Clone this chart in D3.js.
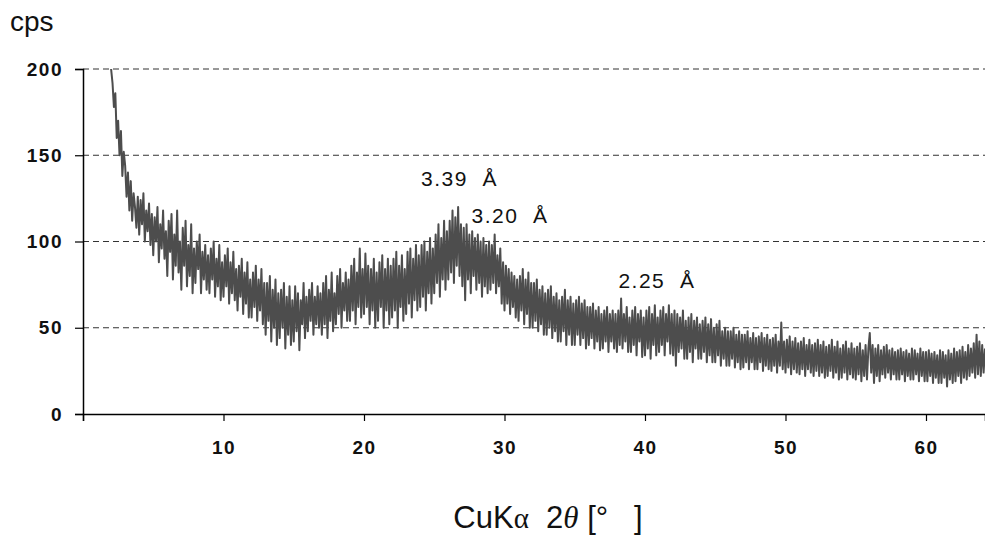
<!DOCTYPE html>
<html>
<head>
<meta charset="utf-8">
<script src="https://cdn.jsdelivr.net/npm/d3@7/dist/d3.min.js"></script>
<style>
  html, body { margin: 0; padding: 0; background: #fff; }
  svg { display: block; }
</style>
</head>
<body>
<svg id="chart" width="985" height="535"></svg>
<script>
// ---- data ----
const twoThetaStart = 2.0;   // first scan angle [deg]
const twoThetaStep = 0.1;    // scan step [deg]
const cps = [
  200, 192, 178, 186, 160, 170, 150, 164, 138, 152,
  144, 126, 140, 118, 135, 112, 128, 120, 108, 126,
  104, 124, 110, 128, 100, 118, 106, 122, 98, 116,
  92, 114, 100, 120, 88, 110, 96, 118, 90, 106,
  80, 112, 94, 116, 78, 104, 86, 118, 82, 100,
  72, 108, 86, 112, 74, 98, 80, 110, 70, 96,
  76, 100, 84, 104, 70, 94, 78, 98, 72, 92,
  70, 96, 78, 100, 68, 90, 74, 98, 66, 88,
  68, 92, 74, 96, 64, 88, 70, 94, 66, 84,
  60, 86, 68, 90, 58, 82, 64, 88, 56, 78,
  56, 82, 62, 86, 54, 78, 60, 84, 52, 76,
  46, 76, 54, 80, 42, 72, 50, 78, 40, 70,
  44, 72, 50, 76, 38, 68, 46, 74, 40, 66,
  42, 74, 48, 70, 37, 66, 52, 76, 44, 68,
  48, 72, 54, 76, 46, 68, 52, 74, 50, 70,
  46, 76, 52, 80, 44, 72, 54, 82, 48, 70,
  52, 80, 58, 84, 50, 76, 60, 82, 54, 78,
  54, 86, 60, 90, 52, 82, 62, 96, 56, 84,
  58, 93, 62, 86, 52, 84, 60, 90, 50, 82,
  54, 88, 62, 92, 50, 84, 60, 90, 52, 86,
  56, 90, 60, 94, 50, 86, 62, 92, 54, 84,
  58, 94, 64, 96, 56, 90, 66, 98, 60, 92,
  62, 98, 68, 100, 60, 94, 70, 102, 64, 96,
  70, 104, 76, 110, 68, 102, 78, 112, 72, 106,
  78, 112, 82, 118, 76, 114, 86, 120, 80, 110,
  74, 108, 66, 110, 78, 104, 70, 106, 80, 102,
  72, 104, 76, 100, 68, 102, 74, 98, 70, 100,
  72, 98, 76, 104, 70, 92, 74, 96, 64, 88,
  60, 86, 64, 84, 58, 82, 62, 80, 56, 78,
  54, 80, 60, 84, 52, 78, 58, 82, 50, 76,
  50, 76, 54, 78, 48, 72, 52, 74, 46, 70,
  46, 72, 50, 74, 44, 68, 48, 70, 42, 66,
  42, 68, 48, 72, 40, 66, 46, 68, 40, 64,
  40, 66, 46, 68, 40, 64, 44, 66, 38, 62,
  40, 62, 44, 64, 38, 60, 42, 62, 37, 58,
  38, 60, 42, 62, 36, 58, 42, 60, 38, 58,
  36, 60, 40, 67, 38, 58, 42, 62, 36, 56,
  36, 60, 40, 62, 34, 58, 42, 60, 33, 56,
  34, 60, 38, 62, 32, 58, 40, 63, 34, 56,
  36, 60, 40, 62, 34, 58, 42, 63, 35, 58,
  34, 60, 28, 58, 36, 56, 38, 60, 32, 54,
  32, 56, 36, 58, 30, 54, 38, 56, 32, 52,
  32, 54, 36, 56, 30, 52, 34, 55, 30, 50,
  30, 52, 34, 54, 28, 48, 32, 50, 28, 48,
  28, 48, 32, 50, 27, 46, 30, 48, 26, 46,
  27, 46, 30, 48, 26, 44, 30, 47, 26, 44,
  26, 45, 30, 47, 25, 44, 28, 46, 26, 43,
  25, 44, 28, 46, 24, 42, 28, 53, 26, 42,
  24, 43, 27, 45, 23, 42, 26, 44, 24, 41,
  23, 42, 26, 44, 22, 40, 26, 43, 24, 40,
  22, 41, 25, 43, 22, 40, 24, 42, 21, 39,
  22, 40, 25, 43, 21, 39, 24, 42, 20, 38,
  21, 40, 24, 42, 20, 38, 23, 41, 21, 38,
  20, 39, 23, 41, 19, 37, 22, 40, 20, 38,
  47, 24, 40, 18, 38, 22, 40, 19, 37, 23,
  39, 21, 40, 24, 37, 20, 38, 23, 36, 20,
  37, 20, 38, 23, 36, 19, 37, 22, 35, 20,
  38, 20, 37, 23, 35, 19, 38, 22, 36, 19,
  36, 19, 37, 22, 35, 18, 36, 21, 34, 18,
  37, 18, 36, 21, 34, 16, 37, 20, 35, 18,
  38, 19, 36, 22, 37, 18, 39, 21, 36, 20,
  40, 22, 38, 24, 41, 21, 46, 23, 42, 22,
  40, 24, 38
];
const yTicks = [0, 50, 100, 150, 200];
const xTicks = [10, 20, 30, 40, 50, 60];
const gridValues = [50, 100, 150, 200];
const peakLabels = ["3.39\u00a0\u00a0\u00c5", "3.20\u00a0\u00a0\u00c5", "2.25\u00a0\u00a0\u00c5"];
const peakAt2Theta = [26.8, 30.4, 40.85];
const peakLabelCps = [132, 110.7, 73];

// ---- drawing ----
const svg = d3.select("#chart");
const x = d3.scaleLinear().domain([0, 64.2]).range([83, 985]);
const y = d3.scaleLinear().domain([0, 200]).range([414, 69]);
const font = "'Liberation Sans', Arial, sans-serif";

const points = cps.map((v, i) => [twoThetaStart + i * twoThetaStep, v]);

// gridlines
svg.append("g").selectAll("line").data(gridValues).join("line")
  .attr("x1", x(0)).attr("x2", 985)
  .attr("y1", d => y(d)).attr("y2", d => y(d))
  .attr("stroke", "#333").attr("stroke-width", 1)
  .attr("stroke-dasharray", "6,4");

// data line
svg.append("path")
  .datum(points)
  .attr("fill", "none")
  .attr("stroke", "#4d4d4d")
  .attr("stroke-width", 2)
  .attr("stroke-linejoin", "round")
  .attr("d", d3.line().x(d => x(d[0])).y(d => y(d[1])));

// y axis
const yAxis = svg.append("g").attr("transform", `translate(${x(0)},0)`)
  .call(d3.axisLeft(y).tickValues(yTicks).tickSize(8).tickPadding(12).tickFormat(d3.format("d")));
yAxis.select(".domain").attr("stroke", "#000").attr("stroke-width", 1.5);
yAxis.selectAll(".tick line").attr("stroke", "#000").attr("stroke-width", 1.2);
yAxis.selectAll("text").attr("font-family", font).attr("font-size", 19)
  .attr("font-weight", "bold").attr("letter-spacing", 1.5).attr("fill", "#111");

// x axis
const xAxis = svg.append("g").attr("transform", `translate(0,${y(0)})`)
  .call(d3.axisBottom(x).tickValues([0].concat(xTicks)).tickSize(7).tickPadding(20)
    .tickFormat(d => d === 0 ? "" : d));
xAxis.select(".domain").attr("stroke", "#000").attr("stroke-width", 1.5);
xAxis.selectAll(".tick line").attr("stroke", "#000").attr("stroke-width", 1.2);
xAxis.selectAll("text").attr("font-family", font).attr("font-size", 19)
  .attr("font-weight", "bold").attr("letter-spacing", 1.5).attr("fill", "#111");

// y unit
svg.append("text").attr("x", 10).attr("y", 31)
  .attr("font-family", font).attr("font-size", 28).attr("fill", "#111").text("cps");

// peak labels
svg.append("g").selectAll("text").data(peakLabels).join("text")
  .attr("x", (d, i) => x(peakAt2Theta[i]))
  .attr("y", (d, i) => y(peakLabelCps[i]))
  .attr("text-anchor", "middle")
  .attr("font-family", font).attr("font-size", 21).attr("letter-spacing", 1.5)
  .attr("fill", "#111").text(d => d);

// x axis title
const title = svg.append("text").attr("x", 548).attr("y", 528).attr("text-anchor", "middle")
  .attr("font-family", font).attr("font-size", 31).attr("fill", "#111");
title.append("tspan").text("CuK");
title.append("tspan").attr("font-family", "'Liberation Serif', serif").attr("font-size", 29).text("\u03b1");
title.append("tspan").text("\u00a0\u00a02");
title.append("tspan").attr("font-family", "'Liberation Serif', serif").attr("font-style", "italic").text("\u03b8");
title.append("tspan").text("\u00a0[\u00b0\u00a0\u00a0\u00a0]");
</script>
</body>
</html>
